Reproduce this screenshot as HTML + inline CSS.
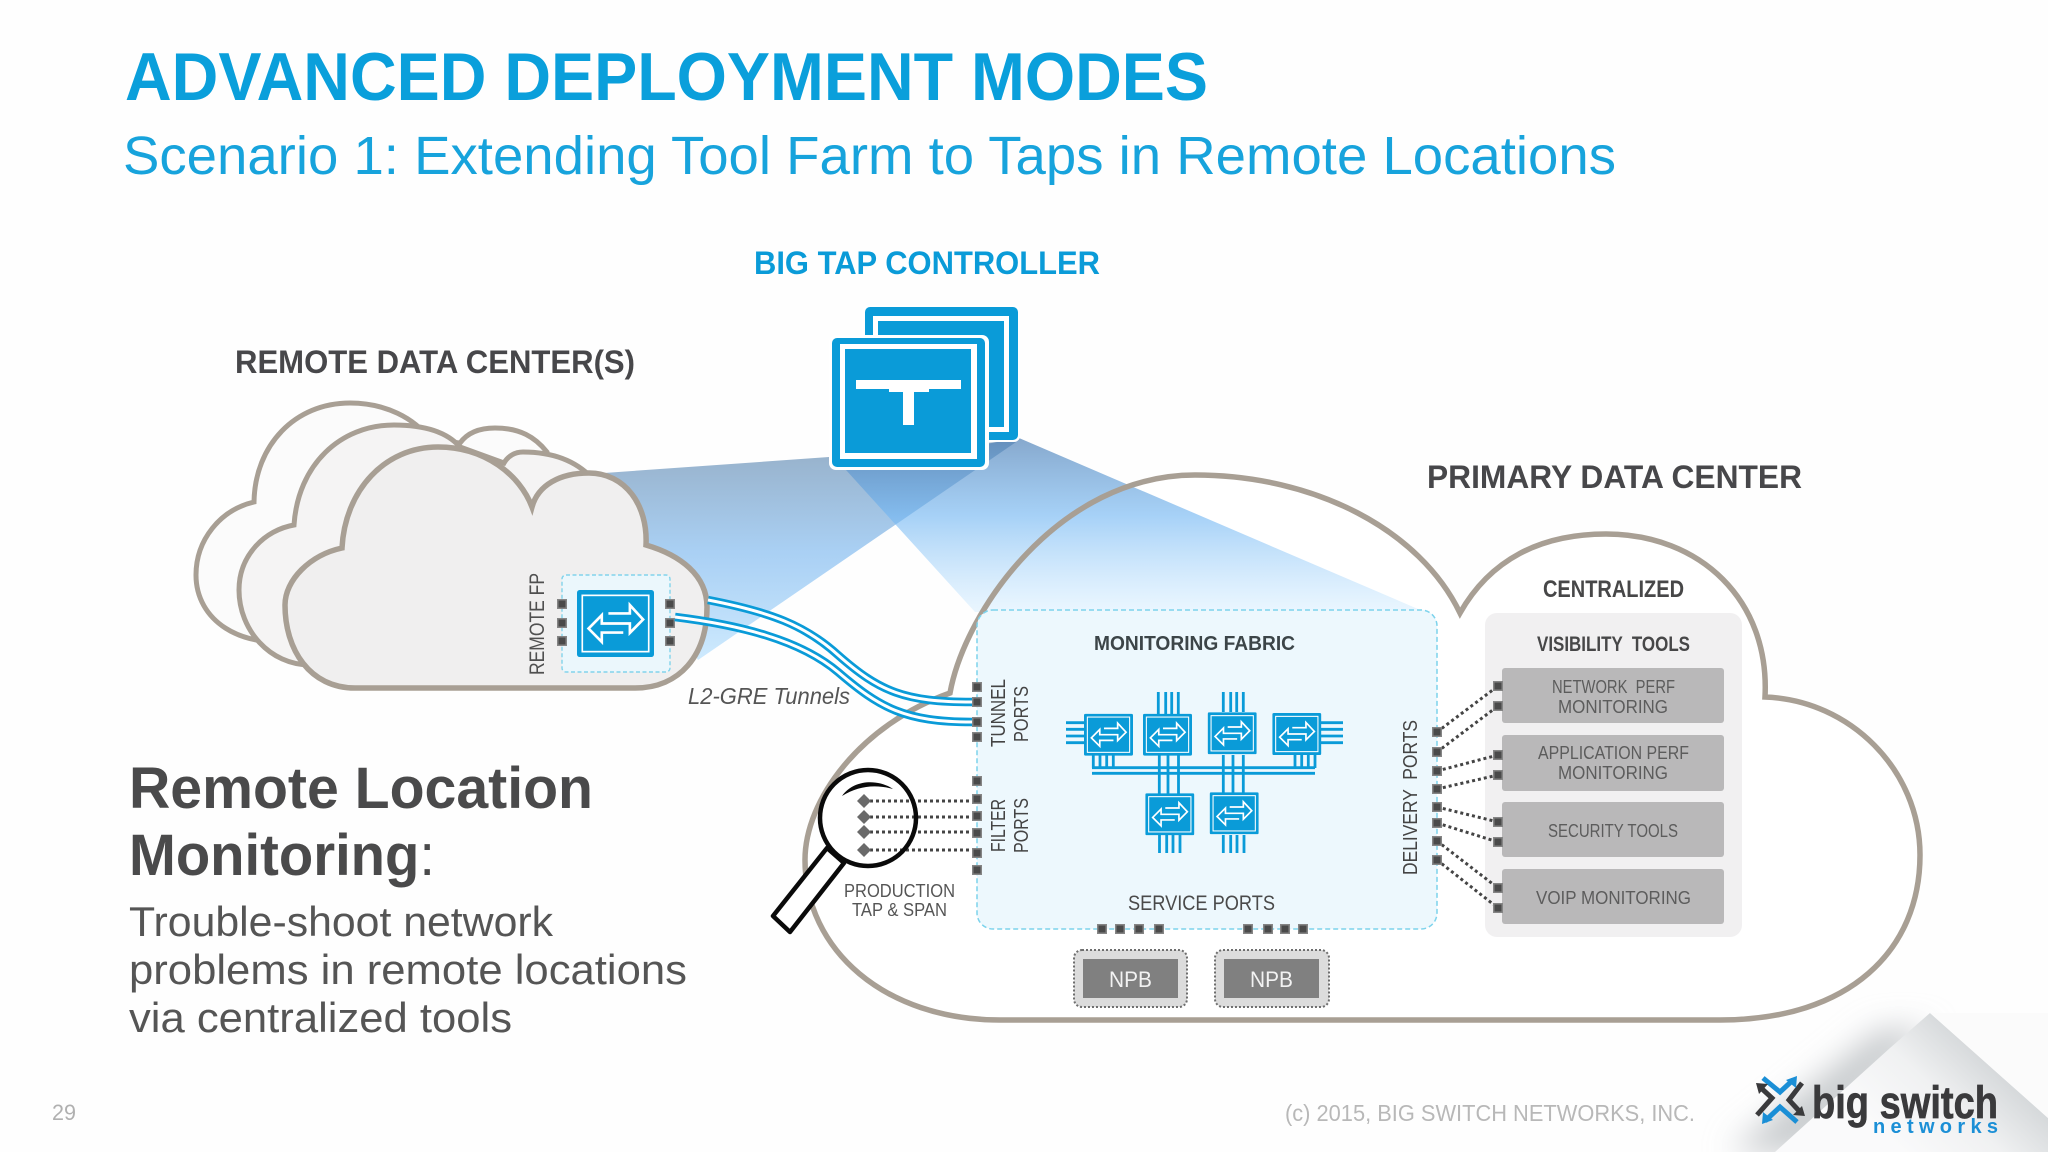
<!DOCTYPE html>
<html><head><meta charset="utf-8"><title>Advanced Deployment Modes</title>
<style>
html,body{margin:0;padding:0;background:#fff;width:2048px;height:1152px;overflow:hidden}
svg{display:block}
text{font-family:"Liberation Sans",sans-serif}
</style></head><body>
<svg width="2048" height="1152" viewBox="0 0 2048 1152" xmlns="http://www.w3.org/2000/svg">
<defs>
<linearGradient id="cone1" gradientUnits="userSpaceOnUse" x1="0" y1="440" x2="0" y2="665">
<stop offset="0" stop-color="#557da4" stop-opacity=".62"/><stop offset=".5" stop-color="#76b4ee" stop-opacity=".62"/><stop offset="1" stop-color="#bfe5ff" stop-opacity=".72"/></linearGradient>
<linearGradient id="cone2" gradientUnits="userSpaceOnUse" x1="0" y1="437" x2="0" y2="612">
<stop offset="0" stop-color="#4d7fb5" stop-opacity=".68"/><stop offset=".45" stop-color="#70b5f2" stop-opacity=".62"/><stop offset="1" stop-color="#cdeaff" stop-opacity=".42"/></linearGradient>
<linearGradient id="fold2" gradientUnits="userSpaceOnUse" x1="1985" y1="1060" x2="1900" y2="1150">
<stop offset="0" stop-color="#d6d9db"/><stop offset=".45" stop-color="#f0f1f2"/><stop offset="1" stop-color="#fafafb"/></linearGradient>
<filter id="blur" x="-40%" y="-40%" width="180%" height="180%"><feGaussianBlur stdDeviation="16"/></filter>
<symbol id="sw" viewBox="170 90 233 200" preserveAspectRatio="none">
<rect x="170" y="90" width="233" height="200" rx="8" fill="#0a9bd8"/>
<rect x="186" y="106" width="201" height="168" fill="none" stroke="#fff" stroke-width="5"/>
<polyline points="265,160 330,160 330,135 370,178 330,218 330,190 245,190 245,165 205,205 245,245 245,217 310,217" fill="none" stroke="#fff" stroke-width="8"/>
</symbol>
<g id="p"><rect x="-5" y="-5" width="10" height="10" fill="#858585"/><rect x="-3.5" y="-3.5" width="7" height="7" fill="#4a4a4a"/></g>
<polygon id="d" points="0,-7 7,0 0,7 -7,0" fill="#6a6a6a"/>
</defs>
<rect width="2048" height="1152" fill="#fefefe"/>

<!-- page corner fold -->
<polygon points="1930,1030 1800,1152 1730,1152 1880,1030" fill="#c4c8ca" filter="url(#blur)"/>
<polygon points="1930,1013 2048,1118 2048,1152 1775,1152 1890,1048" fill="url(#fold2)"/>
<polygon points="1930,1013 2048,1013 2048,1118" fill="#fbfbfb"/>

<!-- titles -->
<text x="125" y="100" font-size="68" font-weight="700" fill="#0a9fdb" textLength="1083" lengthAdjust="spacingAndGlyphs">ADVANCED DEPLOYMENT MODES</text>
<text x="123" y="174" font-size="54" fill="#17a3dc" textLength="1493" lengthAdjust="spacingAndGlyphs">Scenario 1: Extending Tool Farm to Taps in Remote Locations</text>
<text x="754" y="274" font-size="32" font-weight="700" fill="#0a9bd8" textLength="346" lengthAdjust="spacingAndGlyphs">BIG TAP CONTROLLER</text>
<text x="235" y="373" font-size="32" font-weight="700" fill="#47474a" textLength="400" lengthAdjust="spacingAndGlyphs">REMOTE DATA CENTER(S)</text>
<text x="1427" y="488" font-size="32" font-weight="700" fill="#47474a" textLength="375" lengthAdjust="spacingAndGlyphs">PRIMARY DATA CENTER</text>

<!-- primary cloud fill -->
<path d="M950,693 C965,610 1060,475 1195,475 C1315,475 1420,530 1460,613 C1490,560 1540,534 1606,534 C1700,534 1770,600 1765,697 C1850,700 1920,770 1920,855 C1920,950 1850,1020 1720,1020 L1000,1020 C885,1020 805,950 805,860 C805,800 860,725 950,693 Z" fill="#fff"/>

<!-- cones -->
<polygon points="590,474 829,457 1019,440 698,660" fill="url(#cone1)"/>
<polygon points="846,470 1019,438 1425,612 975,612" fill="url(#cone2)"/>

<path d="M950,693 C965,610 1060,475 1195,475 C1315,475 1420,530 1460,613 C1490,560 1540,534 1606,534 C1700,534 1770,600 1765,697 C1850,700 1920,770 1920,855 C1920,950 1850,1020 1720,1020 L1000,1020 C885,1020 805,950 805,860 C805,800 860,725 950,693 Z" fill="none" stroke="#a89f94" stroke-width="5.5" stroke-linejoin="miter"/>

<!-- controller -->
<rect x="862" y="305" width="158" height="137" rx="6" fill="#fff"/>
<rect x="865" y="307" width="153" height="133" rx="5" fill="#0a9bd8"/>
<rect x="873" y="316" width="136" height="116" fill="#fff"/>
<rect x="878" y="321" width="126" height="106" fill="#0a9bd8"/>
<rect x="829" y="335" width="160" height="135" rx="7" fill="#fff"/>
<rect x="832" y="338" width="153" height="129" rx="5" fill="#0a9bd8"/>
<rect x="840" y="344" width="137" height="115" fill="#fff"/>
<rect x="845" y="349" width="126" height="104" fill="#0a9bd8"/>
<rect x="856" y="380" width="105" height="9" fill="#fff"/>
<rect x="889" y="380" width="40" height="12" fill="#fff"/>
<rect x="903" y="389" width="11" height="36" fill="#fff"/>

<!-- remote clouds -->
<path d="M254,502 C255,445 295,403 350,403 C385,403 415,418 430,440 L460,443 C468,432 480,428 495,428 C520,428 535,437 547,452 L560,620 L300,640 C240,650 196,620 196,575 C196,540 220,510 254,502 Z" fill="#fbfbfb" stroke="#a89f94" stroke-width="5"/>
<path d="M294,525 C298,465 340,425 394,425 C425,425 447,432 460,447 L504,463 C508,456 515,452 523,452 C552,452 575,460 592,478 L600,640 L310,665 C270,665 239,630 239,590 C239,555 265,530 294,525 Z" fill="#f5f4f4" stroke="#a89f94" stroke-width="5"/>
<path d="M342,548 C345,490 385,447 438,447 C485,447 520,475 532,507 C538,485 560,473 589,473 C625,473 648,505 646,545 C680,555 707,575 707,607 C707,655 680,688 635,688 L355,688 C310,688 285,650 285,605 C285,580 310,555 342,548 Z" fill="#f0efef" stroke="#a89f94" stroke-width="5.5"/>

<!-- remote switch -->
<rect x="562" y="575" width="108" height="97" rx="4" fill="#ebf7fc" stroke="#82d4ec" stroke-width="1.4" stroke-dasharray="4 2.5"/>
<use href="#sw" x="577" y="590" width="77" height="67"/>
<text transform="translate(544,675) rotate(-90)" font-size="21" fill="#505050" textLength="102" lengthAdjust="spacingAndGlyphs">REMOTE FP</text>
<use href="#p" x="562" y="604"/><use href="#p" x="562" y="623"/><use href="#p" x="562" y="641"/>
<use href="#p" x="670" y="604"/><use href="#p" x="670" y="623"/><use href="#p" x="670" y="641"/>

<!-- fabric -->
<rect x="977" y="610" width="460" height="319" rx="16" fill="#edf8fd" stroke="#7dd3ec" stroke-width="1.5" stroke-dasharray="5 3"/>

<!-- tunnels -->
<g fill="none">
<path d="M708,600 C770,612 805,625 838,655 C880,692 905,702 972,702" stroke="#0a9bd8" stroke-width="8.5"/>
<path d="M708,600 C770,612 805,625 838,655 C880,692 905,702 972,702" stroke="#fff" stroke-width="3"/>
<path d="M675,617 C740,625 800,640 838,672 C880,708 905,722 972,722" stroke="#0a9bd8" stroke-width="8.5"/>
<path d="M675,617 C740,625 800,640 838,672 C880,708 905,722 972,722" stroke="#fff" stroke-width="3"/>
</g>
<text x="688" y="704" font-size="23" font-style="italic" fill="#555" textLength="162" lengthAdjust="spacingAndGlyphs">L2-GRE Tunnels</text>

<!-- fabric labels -->
<text x="1094" y="650" font-size="20" font-weight="700" fill="#3c4548" textLength="201" lengthAdjust="spacingAndGlyphs">MONITORING FABRIC</text>
<text x="1128" y="910" font-size="21" fill="#4a4a4a" textLength="147" lengthAdjust="spacingAndGlyphs">SERVICE  PORTS</text>
<text transform="translate(1005,747) rotate(-90)" font-size="20" fill="#444" textLength="68" lengthAdjust="spacingAndGlyphs">TUNNEL</text>
<text transform="translate(1028,742) rotate(-90)" font-size="20" fill="#444" textLength="56" lengthAdjust="spacingAndGlyphs">PORTS</text>
<text transform="translate(1005,852) rotate(-90)" font-size="20" fill="#444" textLength="53" lengthAdjust="spacingAndGlyphs">FILTER</text>
<text transform="translate(1028,853) rotate(-90)" font-size="20" fill="#444" textLength="55" lengthAdjust="spacingAndGlyphs">PORTS</text>
<text transform="translate(1417,875) rotate(-90)" font-size="20" fill="#444" textLength="155" lengthAdjust="spacingAndGlyphs" xml:space="preserve">DELIVERY  PORTS</text>

<!-- fabric wiring -->
<g stroke="#0a9bd8" stroke-width="2.8" fill="none">
<path d="M1066,722.7H1084M1066,729.3H1084M1066,736H1084M1066,742.7H1084"/>
<path d="M1321,722.7H1343M1321,729.3H1343M1321,736H1343M1321,742.7H1343"/>
<path d="M1158.3,692V714M1165.7,692V714M1171.7,692V714M1178.3,692V714"/>
<path d="M1223.3,692V712M1230.7,692V712M1236.7,692V712M1243.3,692V712"/>
<path d="M1093.3,755V768M1100,755V768M1106.7,755V768M1113.3,755V768"/>
<path d="M1295,755V768M1301.7,755V768M1308.3,755V768M1315,755V768"/>
<path d="M1159.3,755V794M1168,755V794M1178.5,755V794"/>
<path d="M1223.3,755V793M1233,755V793M1243.3,755V793"/>
<path d="M1159.5,835V853M1166.7,835V853M1173,835V853M1180,835V853"/>
<path d="M1223.3,835V853M1230.7,835V853M1237,835V853M1244,835V853"/>
<path d="M1092,767.7H1315M1092,773.3H1315"/>
</g>
<use href="#sw" x="1084" y="713.7" width="49" height="42"/>
<use href="#sw" x="1143" y="713.7" width="49" height="42"/>
<use href="#sw" x="1207.7" y="712.3" width="49" height="42"/>
<use href="#sw" x="1272.3" y="713" width="49" height="42"/>
<use href="#sw" x="1145.3" y="793.3" width="49" height="42"/>
<use href="#sw" x="1209.7" y="792.3" width="49" height="42"/>

<!-- NPBs -->
<rect x="1074" y="950" width="113" height="57" rx="8" fill="#dcdcdc" stroke="#6e6e6e" stroke-width="2" stroke-dasharray="2 2"/>
<rect x="1083" y="959" width="95" height="39" fill="#808080"/>
<text x="1109" y="987" font-size="22" fill="#f2f2f2" textLength="43" lengthAdjust="spacingAndGlyphs">NPB</text>
<rect x="1215" y="950" width="114" height="57" rx="8" fill="#dcdcdc" stroke="#6e6e6e" stroke-width="2" stroke-dasharray="2 2"/>
<rect x="1224" y="959" width="95" height="39" fill="#808080"/>
<text x="1250" y="987" font-size="22" fill="#f2f2f2" textLength="43" lengthAdjust="spacingAndGlyphs">NPB</text>

<!-- tools panel -->
<text x="1543" y="597" font-size="24" font-weight="700" fill="#474748" textLength="141" lengthAdjust="spacingAndGlyphs">CENTRALIZED</text>
<rect x="1485" y="613" width="257" height="324" rx="12" fill="#f1f0f1"/>
<text x="1537" y="651" font-size="21" font-weight="700" fill="#474748" textLength="153" lengthAdjust="spacingAndGlyphs" xml:space="preserve">VISIBILITY  TOOLS</text>
<g fill="#b9b8b9">
<rect x="1502" y="668" width="222" height="55" rx="3"/>
<rect x="1502" y="735" width="222" height="56" rx="3"/>
<rect x="1502" y="802" width="222" height="55" rx="3"/>
<rect x="1502" y="869" width="222" height="55" rx="3"/>
</g>
<g font-size="18" fill="#5c5c5c">
<text x="1552" y="693" textLength="123" lengthAdjust="spacingAndGlyphs" xml:space="preserve">NETWORK  PERF</text>
<text x="1558" y="713" textLength="110" lengthAdjust="spacingAndGlyphs">MONITORING</text>
<text x="1538" y="759" textLength="151" lengthAdjust="spacingAndGlyphs">APPLICATION PERF</text>
<text x="1558" y="779" textLength="110" lengthAdjust="spacingAndGlyphs">MONITORING</text>
<text x="1548" y="837" textLength="130" lengthAdjust="spacingAndGlyphs">SECURITY TOOLS</text>
<text x="1536" y="904" textLength="155" lengthAdjust="spacingAndGlyphs">VOIP MONITORING</text>
</g>

<!-- dotted links -->
<g stroke="#444" stroke-width="3" stroke-dasharray="3 3" fill="none">
<path d="M1437,732L1498,686M1437,752L1498,706M1437,771L1498,755M1437,789L1498,775M1437,807L1498,822M1437,823L1498,842M1437,841L1498,888M1437,860L1498,908"/>
<path d="M864,801H977M864,817H977M864,832H977M864,850H977"/>
</g>

<!-- ports -->
<use href="#p" x="977" y="687"/><use href="#p" x="977" y="702"/><use href="#p" x="977" y="722"/><use href="#p" x="977" y="737"/>
<use href="#p" x="977" y="781"/><use href="#p" x="977" y="799"/><use href="#p" x="977" y="816"/><use href="#p" x="977" y="833"/><use href="#p" x="977" y="853"/><use href="#p" x="977" y="870"/>
<use href="#p" x="1437" y="732"/><use href="#p" x="1437" y="752"/><use href="#p" x="1437" y="771"/><use href="#p" x="1437" y="789"/><use href="#p" x="1437" y="807"/><use href="#p" x="1437" y="823"/><use href="#p" x="1437" y="841"/><use href="#p" x="1437" y="860"/>
<use href="#p" x="1498" y="686"/><use href="#p" x="1498" y="706"/><use href="#p" x="1498" y="755"/><use href="#p" x="1498" y="775"/><use href="#p" x="1498" y="822"/><use href="#p" x="1498" y="842"/><use href="#p" x="1498" y="888"/><use href="#p" x="1498" y="908"/>
<use href="#p" x="1102" y="929"/><use href="#p" x="1120" y="929"/><use href="#p" x="1139" y="929"/><use href="#p" x="1159" y="929"/><use href="#p" x="1248" y="929"/><use href="#p" x="1268" y="929"/><use href="#p" x="1285" y="929"/><use href="#p" x="1303" y="929"/>

<!-- magnifier -->
<polygon points="827,848 844,863 790,932 773,916" fill="#fff" stroke="#0a0a0a" stroke-width="4.5" stroke-linejoin="round"/>
<circle cx="868" cy="818" r="48" fill="none" stroke="#0a0a0a" stroke-width="4.5"/>
<path d="M842,796 C855,778 880,780 893,789 C875,784 858,786 842,796Z" fill="#0a0a0a"/>
<use href="#d" x="864" y="801"/><use href="#d" x="864" y="817"/><use href="#d" x="864" y="832"/><use href="#d" x="864" y="850"/>
<text x="844" y="897" font-size="18" fill="#555" textLength="111" lengthAdjust="spacingAndGlyphs">PRODUCTION</text>
<text x="852" y="916" font-size="18" fill="#555" textLength="95" lengthAdjust="spacingAndGlyphs">TAP &amp; SPAN</text>

<!-- left copy -->
<text x="129" y="808" font-size="58" font-weight="700" fill="#4a4a4b" textLength="464" lengthAdjust="spacingAndGlyphs">Remote Location</text>
<text x="129" y="875" font-size="58" fill="#4a4a4b" textLength="306" lengthAdjust="spacingAndGlyphs"><tspan font-weight="700">Monitoring</tspan>:</text>
<g font-size="42" fill="#555">
<text x="129" y="936" textLength="424" lengthAdjust="spacingAndGlyphs">Trouble-shoot network</text>
<text x="129" y="984" textLength="558" lengthAdjust="spacingAndGlyphs">problems in remote locations</text>
<text x="129" y="1032" textLength="383" lengthAdjust="spacingAndGlyphs">via centralized tools</text>
</g>

<!-- footer -->
<text x="52" y="1120" font-size="22" fill="#b0b0b0" textLength="24" lengthAdjust="spacingAndGlyphs">29</text>
<text x="1285" y="1121" font-size="23" fill="#b8b8b8" textLength="410" lengthAdjust="spacingAndGlyphs">(c) 2015, BIG SWITCH NETWORKS, INC.</text>

<!-- logo -->
<g fill="none" stroke-width="5">
<path d="M1763,1078L1780,1092L1793,1080M1765,1121L1780,1107L1797,1122" stroke="#1b8fd6"/>
<path d="M1760,1087L1772,1098L1757,1115M1801,1113L1789,1100L1802,1083" stroke="#3a3a3c"/>
</g>
<polygon points="1797,1076 1796,1088 1786,1080" fill="#1b8fd6"/>
<polygon points="1762,1124 1763,1112 1773,1120" fill="#1b8fd6"/>
<polygon points="1756,1083 1768,1084 1759,1094" fill="#3a3a3c"/>
<polygon points="1805,1116 1793,1115 1802,1106" fill="#3a3a3c"/>
<text x="1812" y="1118" font-size="45" font-weight="700" fill="#3a3a3c" stroke="#3a3a3c" stroke-width=".7" textLength="186" lengthAdjust="spacingAndGlyphs">big switch</text>
<text x="1873" y="1133" font-size="20" font-weight="700" fill="#1b8fd6" textLength="125" lengthAdjust="spacing">networks</text>
</svg>
</body></html>
